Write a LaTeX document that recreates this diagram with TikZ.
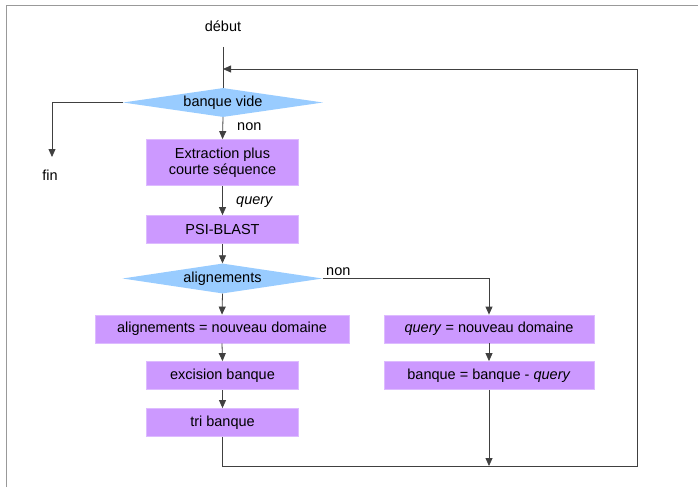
\documentclass[tikz,border=0pt]{standalone}
\usepackage{fontspec}
\setmainfont{Liberation Sans}
\usetikzlibrary{shapes.geometric,arrows.meta}
\definecolor{dblue}{HTML}{99CCFF}
\definecolor{bviolet}{HTML}{CC99FF}
\definecolor{bborder}{HTML}{DDBBFF}
\definecolor{lineclr}{HTML}{404040}
\begin{document}
\begin{tikzpicture}[x=1pt,y=-1pt,
  every node/.style={font=\fontsize{14.5}{17}\selectfont},
  decision/.style={diamond,fill=dblue,inner sep=0pt,shape aspect=6.9,minimum width=200pt,minimum height=29pt},
  procbox/.style={rectangle,fill=bviolet,draw=bborder,line width=0.8pt,inner sep=0pt,minimum height=28pt},
  conn/.style={draw=lineclr,line width=0.8pt},
  arr/.style={conn,-{Triangle[length=8pt,width=7pt]}},
  lbl/.style={inner sep=0pt,anchor=west}]
\useasboundingbox (0,0) rectangle (698,487);
\draw[gray!80,line width=1pt] (6.5,487) -- (6.5,5.5) -- (698,5.5);

\node (debut) at (223,26) {début};
\coordinate (start) at (223,47);
\coordinate (join) at (223,69);

\node[decision] (vide) at (223,102.5) {banque vide};
\coordinate (finturn) at (52,102.5);
\coordinate (finend) at (52,157);
\node (fin) at (50,175) {fin};

\node[procbox,minimum width=152pt,minimum height=46pt,align=center] (extr) at (222.5,162.5) {Extraction plus\\[-1pt]courte séquence};
\node[procbox,minimum width=152pt] (psi) at (222.5,229.5) {PSI-BLAST};
\node[decision,minimum height=30pt] (align) at (222.5,278.5) {alignements};
\node[procbox,minimum width=254pt] (nd) at (222,329) {alignements = nouveau domaine};
\node[procbox,minimum width=152pt] (exc) at (222.5,375.5) {excision banque};
\node[procbox,minimum width=152pt] (tri) at (222.5,422.5) {tri banque};

\coordinate (rturn) at (489,278.5);
\node[procbox,minimum width=210pt] (qnd) at (489,329) {\textit{query} = nouveau domaine};
\node[procbox,minimum width=210pt] (bq) at (489,375.5) {banque = banque - \textit{query}};
\coordinate (bend) at (489,466);
\coordinate (lbot) at (222.5,466);
\coordinate (rbot) at (637,466);
\coordinate (rtop) at (637,69);

\draw[conn] (start) -- (vide.north);
\draw[arr] (vide.west) -- (finturn) -- (finend);
\draw[arr] (vide.south) -- (extr.north);
\node[lbl] at (237,127) {non};
\draw[arr] (extr.south) -- (psi.north);
\node[lbl] at (236,202) {\textit{query}};
\draw[arr] (psi.south) -- (align.north);
\draw[arr] (align.east) -- (rturn) -- (qnd.north);
\node[lbl] at (326,271.5) {non};
\draw[arr] (align.south) -- (nd.north);
\draw[arr] (nd.south) -- (exc.north);
\draw[arr] (exc.south) -- (tri.north);
\draw[arr] (qnd.south) -- (bq.north);
\draw[arr] (bq.south) -- (bend);
\draw[arr] (tri.south) -- (lbot) -- (rbot) -- (rtop) -- (join);
\end{tikzpicture}
\end{document}
